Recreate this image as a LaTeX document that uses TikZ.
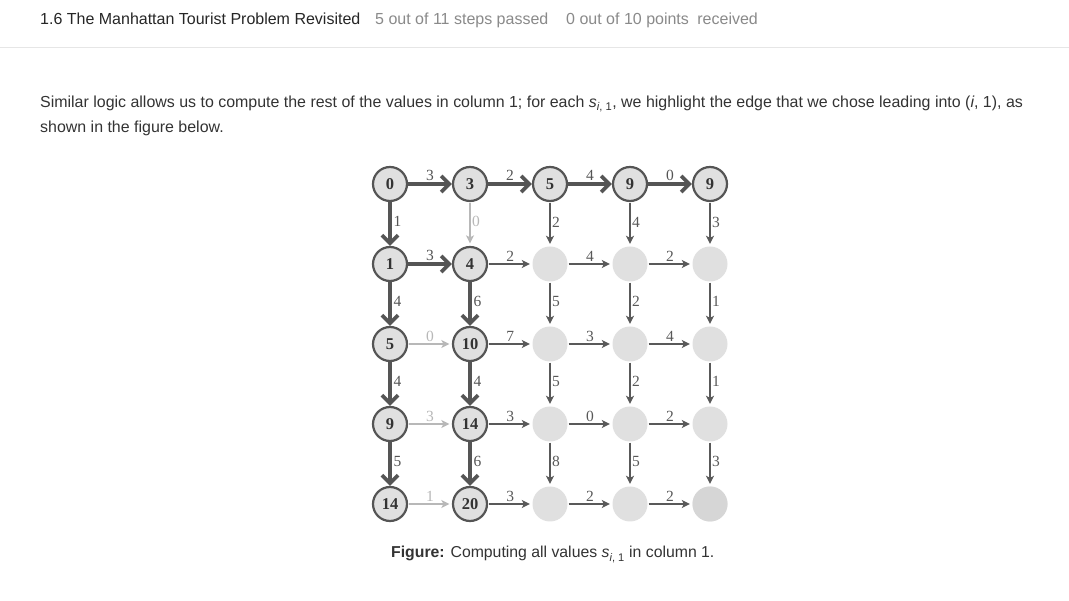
\documentclass[tikz,border=0pt]{standalone}
\usepackage{fontspec}
\setmainfont{Liberation Serif}
\newfontfamily\uifont{Liberation Sans}
\usetikzlibrary{arrows.meta}

\definecolor{inkgray}{HTML}{555555}
\definecolor{edgegray}{HTML}{595959}
\definecolor{palegray}{HTML}{B8B8B8}
\definecolor{cellgray}{HTML}{E0E0E0}
\definecolor{lastgray}{HTML}{D6D6D6}
\definecolor{rulegray}{HTML}{E6E6E6}
\definecolor{metagray}{HTML}{8A8A8A}
\definecolor{bodygray}{HTML}{333333}

\tikzset{
  scored/.style={circle,draw=inkgray,line width=2.2pt,fill=cellgray,minimum size=34pt,
    inner sep=0pt,text=black!80,font=\bfseries\fontsize{16.5}{16.5}\selectfont},
  blank/.style={circle,fill=cellgray,minimum size=35pt,inner sep=0pt},
  plain/.style={color=edgegray,line width=1.3pt,-{Stealth[length=8pt,width=8pt,inset=2pt]},
    shorten >=2.5pt,shorten <=1pt},
  faint/.style={plain,color=palegray},
  chosen/.style={color=inkgray,line width=4pt,
    -{Straight Barb[length=8pt,width=16pt,line width=3.8pt]}},
  wt/.style={font=\fontsize{15.5}{15.5}\selectfont,inner sep=1.5pt},
  ui/.style={anchor=base west,inner sep=0pt,font=\uifont\fontsize{16}{16}\selectfont}
}

\begin{document}
\begin{tikzpicture}[x=1pt,y=-1pt]
  \useasboundingbox[fill=white] (0,0) rectangle (1069,601);

  % page header
  \node[ui,text=black!85] (title) at (40,25) {1.6 The Manhattan Tourist Problem Revisited};
  \node[ui,text=metagray] (steps) at (375,25) {5 out of 11 steps passed};
  \node[ui,text=metagray] (points) at (566,25) {0 out of 10 points\hspace{4pt} received};
  \draw[rulegray,line width=1pt] (0,48) -- (1069,48);

  \node[ui,text=bodygray,font=\uifont\fontsize{15.95}{15.95}\selectfont] (para1) at (40,108)
    {Similar logic allows us to compute the rest of the values in column 1; for each
     \textit{s}\textsubscript{\textit{i}, 1}, we highlight the edge that we chose leading into (\textit{i}, 1), as};
  \node[ui,text=bodygray,font=\uifont\fontsize{15.95}{15.95}\selectfont] (para2) at (40,133)
    {shown in the figure below.};

  % grid of cells
  \foreach \i in {1,...,4}
    \foreach \j in {2,3,4}
      \node[blank] (n\i\j) at (390+80*\j,184+80*\i) {};
  \node[blank,fill=lastgray] (n44) at (710,504) {};
  \foreach \i/\j/\v in {0/0/0,0/1/3,0/2/5,0/3/9,0/4/9,1/0/1,1/1/4,
                        2/0/5,2/1/10,3/0/9,3/1/14,4/0/14,4/1/20}
    \node[scored] (n\i\j) at (390+80*\j,184+80*\i) {\v};

  % horizontal edges
  \foreach \a/\b/\w/\s in {00/01/3/chosen,01/02/2/chosen,02/03/4/chosen,03/04/0/chosen,
      10/11/3/chosen,11/12/2/plain,12/13/4/plain,13/14/2/plain,
      20/21/0/faint,21/22/7/plain,22/23/3/plain,23/24/4/plain,
      30/31/3/faint,31/32/3/plain,32/33/0/plain,33/34/2/plain,
      40/41/1/faint,41/42/3/plain,42/43/2/plain,43/44/2/plain}
    \draw[\s] (n\a) -- (n\b) node[wt,midway,above] {\w};

  % vertical edges
  \foreach \a/\b/\w/\s in {00/10/1/chosen,01/11/0/faint,02/12/2/plain,03/13/4/plain,04/14/3/plain,
      10/20/4/chosen,11/21/6/chosen,12/22/5/plain,13/23/2/plain,14/24/1/plain,
      20/30/4/chosen,21/31/4/chosen,22/32/5/plain,23/33/2/plain,24/34/1/plain,
      30/40/5/chosen,31/41/6/chosen,32/42/8/plain,33/43/5/plain,34/44/3/plain}
    \draw[\s] (n\a) -- (n\b) node[wt,pos=0.45,right] {\w};

  \node[ui,text=bodygray,font=\uifont\fontsize{15.8}{15.8}\selectfont] (caption) at (391,558)
    {\textbf{Figure:} Computing all values \textit{s}\textsubscript{\textit{i}, 1} in column 1.};
\end{tikzpicture}
\end{document}
